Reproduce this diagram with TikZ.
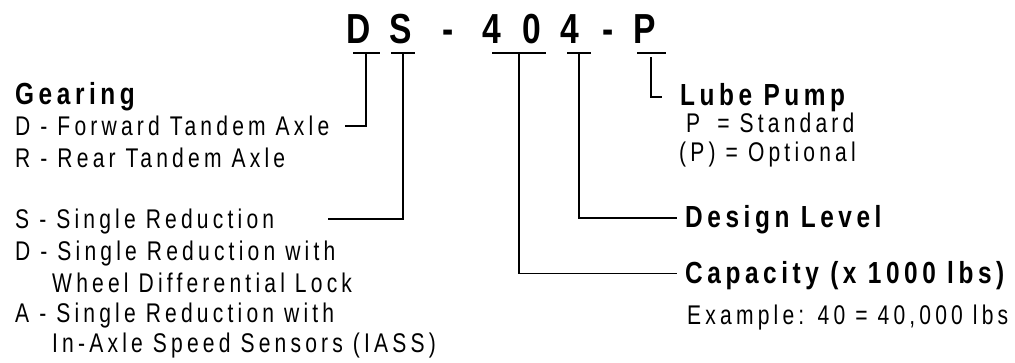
\documentclass[tikz,border=0pt]{standalone}
\usepackage{fontspec}
\setmainfont{Liberation Sans}[FakeStretch=0.78, LetterSpace=15.5]
\newfontfamily\headfont{Liberation Sans}[FakeStretch=0.8, LetterSpace=15]
\begin{document}
\begin{tikzpicture}[x=1pt,y=-1pt,
  txt/.style={inner sep=0pt, anchor=base west, font=\fontsize{27}{27}\selectfont},
  head/.style={inner sep=0pt, anchor=base west, font=\headfont\fontsize{30.5}{30}\selectfont\bfseries},
  code/.style={inner sep=0pt, anchor=base west, font=\headfont\fontsize{42}{42}\selectfont\bfseries},
  conn/.style={line width=1.5pt, line cap=butt, line join=miter}]
\useasboundingbox (0,0) rectangle (1015,362);
% code letters
\node[code] (cD) at (346,43) {D};
\node[code] (cS) at (389,43) {S};
\node[code] (cM1) at (442,43) {-};
\node[code] (c4a) at (482,43) {4};
\node[code] (c0) at (522,43) {0};
\node[code] (c4b) at (560,43) {4};
\node[code] (cM2) at (602,43) {-};
\node[code] (cP) at (633,43) {P};
% left texts
\node[head] (gear) at (15,104) {Gearing};
\node[txt] (fwd) at (15,135) {D - Forward Tandem Axle};
\node[txt] (rear) at (15,167) {R - Rear Tandem Axle};
\node[txt] (sred) at (15,228) {S - Single Reduction};
\node[txt] (dred) at (15,260) {D - Single Reduction with};
\node[txt] (wdl) at (52,292) {Wheel Differential Lock};
\node[txt] (ared) at (15,322) {A - Single Reduction with};
\node[txt] (iass) at (52,352) {In-Axle Speed Sensors (IASS)};
% right texts
\node[head] (lube) at (680,105) {Lube Pump};
\node[txt] (pstd) at (679,132) {\phantom{(}P\phantom{)} = Standard};
\node[txt] (popt) at (679,161) {(P) = Optional};
\node[head] (design) at (685,227) {Design Level};
\node[head] (cap) at (685,283) {Capacity (x 1000 lbs)};
\node[txt] (ex) at (687,324) {Example: 40 = 40,000 lbs};
% connector coordinates
\coordinate (dTop) at (366,53);
\coordinate (dCorner) at (366,126);
\coordinate (dEnd) at (345,126);
\coordinate (sTop) at (403,53);
\coordinate (sCorner) at (403,219);
\coordinate (sEnd) at (328,219);
\coordinate (cTop) at (519,53);
\coordinate (cCorner) at (519,273.5);
\coordinate (cEnd) at (677,273.5);
\coordinate (lTop) at (579,53);
\coordinate (lCorner) at (579,218);
\coordinate (lEnd) at (677,218);
\coordinate (pTop) at (651,57);
\coordinate (pCorner) at (651,97);
\coordinate (pEnd) at (662,97);
% bars
\draw[conn] (353,53) -- (380,53);
\draw[conn] (391,53) -- (415,53);
\draw[conn] (492,53) -- (546,53);
\draw[conn] (567,53) -- (591,53);
\draw[conn] (637,53) -- (666,53);
% connectors
\draw[conn] (dTop) -- (dCorner) -- (dEnd);
\draw[conn] (sTop) -- (sCorner) -- (sEnd);
\draw[conn] (cTop) -- (cCorner) -- (cEnd);
\draw[conn] (lTop) -- (lCorner) -- (lEnd);
\draw[conn] (pTop) -- (pCorner) -- (pEnd);
\end{tikzpicture}
\end{document}
